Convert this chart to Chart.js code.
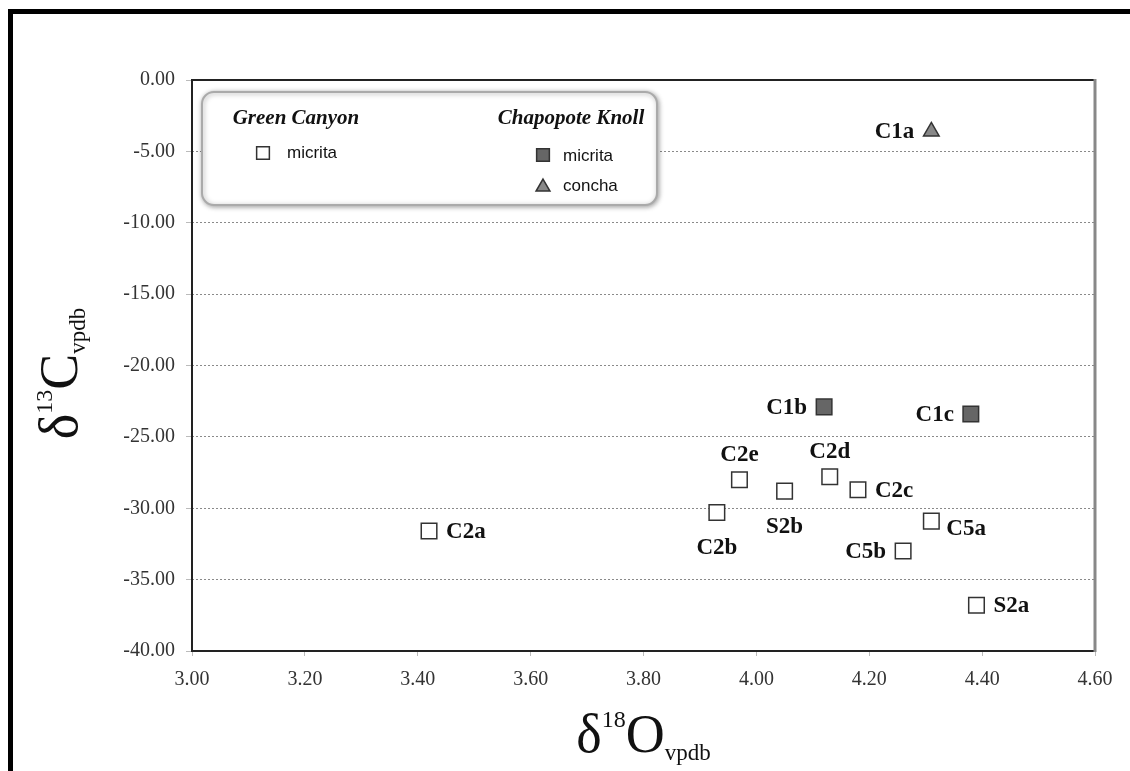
<!DOCTYPE html>
<html>
<head>
<meta charset="utf-8">
<script src="https://cdn.jsdelivr.net/npm/chart.js@4/dist/chart.umd.min.js"></script>
<style>
  html, body { margin: 0; padding: 0; background: #fff; }
</style>
</head>
<body>
<canvas id="chart" width="1130" height="771"></canvas>
<script>
// Green Canyon - micrita
const gcNames = ["C2a", "C2b", "C2e", "S2b", "C2d", "C2c", "C5b", "C5a", "S2a"];
const gcO18 = [3.42, 3.93, 3.97, 4.05, 4.13, 4.18, 4.26, 4.31, 4.39];
const gcC13 = [-31.6, -30.3, -28.0, -28.8, -27.8, -28.7, -33.0, -30.9, -36.8];

// Chapopote Knoll - micrita
const ckMicNames = ["C1b", "C1c"];
const ckMicO18 = [4.12, 4.38];
const ckMicC13 = [-22.9, -23.4];

// Chapopote Knoll - concha
const ckConNames = ["C1a"];
const ckConO18 = [4.31];
const ckConC13 = [-3.6];

const xRange = [3.0, 4.6];
const yRange = [-40, 0];

// where each point label sits relative to its marker
const labelSide = {
    C1a: "left", C1b: "left", C1c: "left",
    C2a: "right", C2b: "below", C2e: "above", S2b: "below",
    C2d: "above", C2c: "right", C5b: "left", C5a: "rightlow", S2a: "right"
};

const toPoints = (xs, ys) => xs.map((x, i) => ({ x: x, y: ys[i] }));

const SERIF = "'Liberation Serif', 'Times New Roman', serif";
const SANS = "'Liberation Sans', Arial, sans-serif";

function drawRich(ctx, parts, cx, baseY) {
    let total = 0;
    parts.forEach(p => {
        ctx.font = p.size + "px " + SERIF;
        p.w = ctx.measureText(p.t).width;
        total += p.w + (p.gap || 0);
    });
    let x = cx - total / 2;
    ctx.textAlign = "left";
    ctx.textBaseline = "alphabetic";
    parts.forEach(p => {
        ctx.font = p.size + "px " + SERIF;
        ctx.fillText(p.t, x, baseY + (p.dy || 0));
        x += p.w + (p.gap || 0);
    });
}

const decor = {
    id: "decor",
    beforeDraw(chart) {
        const ctx = chart.ctx;
        ctx.save();
        ctx.fillStyle = "#fff";
        ctx.fillRect(0, 0, chart.width, chart.height);
        // outer black frame (runs off the right and bottom edges)
        ctx.fillStyle = "#000";
        ctx.fillRect(8, 9, chart.width, 5);
        ctx.fillRect(8, 9, 5, chart.height);
        ctx.restore();
    },
    afterDatasetsDraw(chart) {
        const ctx = chart.ctx;
        ctx.save();
        ctx.font = "bold 23px " + SERIF;
        ctx.textBaseline = "middle";
        const names = [gcNames, ckMicNames, ckConNames];
        names.forEach((list, di) => {
            const meta = chart.getDatasetMeta(di);
            list.forEach((name, j) => {
                const el = meta.data[j];
                const side = labelSide[name];
                let x = el.x, y = el.y, align = "center";
                if (side === "left") { x -= 17; align = "right"; }
                else if (side === "right") { x += 17; align = "left"; }
                else if (side === "rightlow") { x += 15; y += 7; align = "left"; }
                else if (side === "above") { y -= 26; }
                else if (side === "below") { y += 35; }
                const w = ctx.measureText(name).width;
                let bx = align === "right" ? x - w : align === "left" ? x : x - w / 2;
                ctx.fillStyle = "#fff";
                ctx.fillRect(bx - 3, y - 12, w + 6, 24);
                ctx.fillStyle = "#111";
                ctx.textAlign = align;
                ctx.fillText(name, x, y + 1);
            });
        });
        ctx.restore();
    },
    afterDraw(chart) {
        const ctx = chart.ctx;
        const a = chart.chartArea;
        ctx.save();

        // plot frame
        ctx.strokeStyle = "#222";
        ctx.lineWidth = 2;
        ctx.beginPath();
        ctx.moveTo(a.right, a.top);
        ctx.lineTo(a.left, a.top);
        ctx.lineTo(a.left, a.bottom);
        ctx.lineTo(a.right, a.bottom);
        ctx.stroke();
        ctx.strokeStyle = "#888";
        ctx.lineWidth = 3;
        ctx.beginPath();
        ctx.moveTo(a.right, a.top - 1);
        ctx.lineTo(a.right, a.bottom + 1);
        ctx.stroke();

        // legend box
        const lx = a.left + 10, ly = a.top + 12, lw = 455, lh = 113;
        ctx.shadowColor = "rgba(0,0,0,0.35)";
        ctx.shadowBlur = 5;
        ctx.shadowOffsetX = 1;
        ctx.shadowOffsetY = 1;
        ctx.fillStyle = "#fff";
        ctx.strokeStyle = "#aaa";
        ctx.lineWidth = 2;
        ctx.beginPath();
        ctx.roundRect(lx, ly, lw, lh, 12);
        ctx.fill();
        ctx.stroke();
        ctx.shadowColor = "transparent";

        ctx.fillStyle = "#111";
        ctx.textAlign = "center";
        ctx.textBaseline = "alphabetic";
        ctx.font = "italic bold 21px " + SERIF;
        ctx.fillText("Green Canyon", lx + 94, ly + 32);
        ctx.fillText("Chapopote Knoll", lx + 369, ly + 32);

        const sym = (style, fill, stroke, r, x, y) => {
            ctx.fillStyle = fill;
            ctx.strokeStyle = stroke;
            ctx.lineWidth = 1.5;
            Chart.helpers.drawPoint(ctx, { pointStyle: style, radius: r, rotation: 0, borderWidth: 1.5 }, x, y);
        };
        sym("rect", "#fff", "#333", 9, lx + 61, ly + 61);
        sym("rect", "#666", "#333", 9, lx + 341, ly + 63);
        sym("triangle", "#888", "#333", 8, lx + 341, ly + 95);

        ctx.fillStyle = "#111";
        ctx.textAlign = "left";
        ctx.textBaseline = "middle";
        ctx.font = "17px " + SANS;
        ctx.fillText("micrita", lx + 85, ly + 61);
        ctx.fillText("micrita", lx + 361, ly + 64);
        ctx.fillText("concha", lx + 361, ly + 94);

        // axis titles
        ctx.fillStyle = "#111";
        drawRich(ctx, [
            { t: "\u03b4", size: 54 },
            { t: "18", size: 24, dy: -25 },
            { t: "O", size: 54 },
            { t: "vpdb", size: 23, dy: 8 }
        ], (a.left + a.right) / 2, 752);

        ctx.translate(77, (a.top + a.bottom) / 2 + 8);
        ctx.rotate(-Math.PI / 2);
        drawRich(ctx, [
            { t: "\u03b4", size: 54 },
            { t: "13", size: 24, dy: -25 },
            { t: "C", size: 54 },
            { t: "vpdb", size: 23, dy: 8 }
        ], 0, 0);
        ctx.restore();
    }
};

const fmt = v => Number(v).toFixed(2);

new Chart(document.getElementById("chart"), {
    type: "scatter",
    data: {
        datasets: [
            {
                label: "Green Canyon micrita",
                data: toPoints(gcO18, gcC13),
                pointStyle: "rect",
                pointRadius: 11,
                backgroundColor: "#fff",
                borderColor: "#333",
                borderWidth: 1.5
            },
            {
                label: "Chapopote Knoll micrita",
                data: toPoints(ckMicO18, ckMicC13),
                pointStyle: "rect",
                pointRadius: 11,
                backgroundColor: "#666",
                borderColor: "#333",
                borderWidth: 1.5
            },
            {
                label: "Chapopote Knoll concha",
                data: toPoints(ckConO18, ckConC13),
                pointStyle: "triangle",
                pointRadius: 9,
                backgroundColor: "#888",
                borderColor: "#333",
                borderWidth: 1.5
            }
        ]
    },
    options: {
        responsive: false,
        animation: false,
        devicePixelRatio: 1,
        layout: { padding: { left: 0, top: 80, right: 35, bottom: 0 } },
        plugins: {
            legend: { display: false },
            tooltip: { enabled: false }
        },
        scales: {
            x: {
                type: "linear",
                min: xRange[0],
                max: xRange[1],
                afterFit: s => { s.height = 120; },
                ticks: {
                    stepSize: 0.2,
                    padding: 12,
                    color: "#333",
                    font: { family: SERIF, size: 20 },
                    callback: fmt
                },
                grid: {
                    drawOnChartArea: false,
                    tickLength: 5,
                    tickColor: "#bbb"
                },
                border: { display: false }
            },
            y: {
                type: "linear",
                min: yRange[0],
                max: yRange[1],
                afterFit: s => { s.width = 192; },
                ticks: {
                    stepSize: 5,
                    padding: 11,
                    color: "#333",
                    font: { family: SERIF, size: 20 },
                    callback: fmt
                },
                grid: {
                    color: "#8a8a8a",
                    lineWidth: 1,
                    tickLength: 6,
                    tickColor: "#bbb",
                    tickBorderDash: []
                },
                border: { display: false, dash: [2, 2] }
            }
        }
    },
    plugins: [decor]
});
</script>
</body>
</html>
